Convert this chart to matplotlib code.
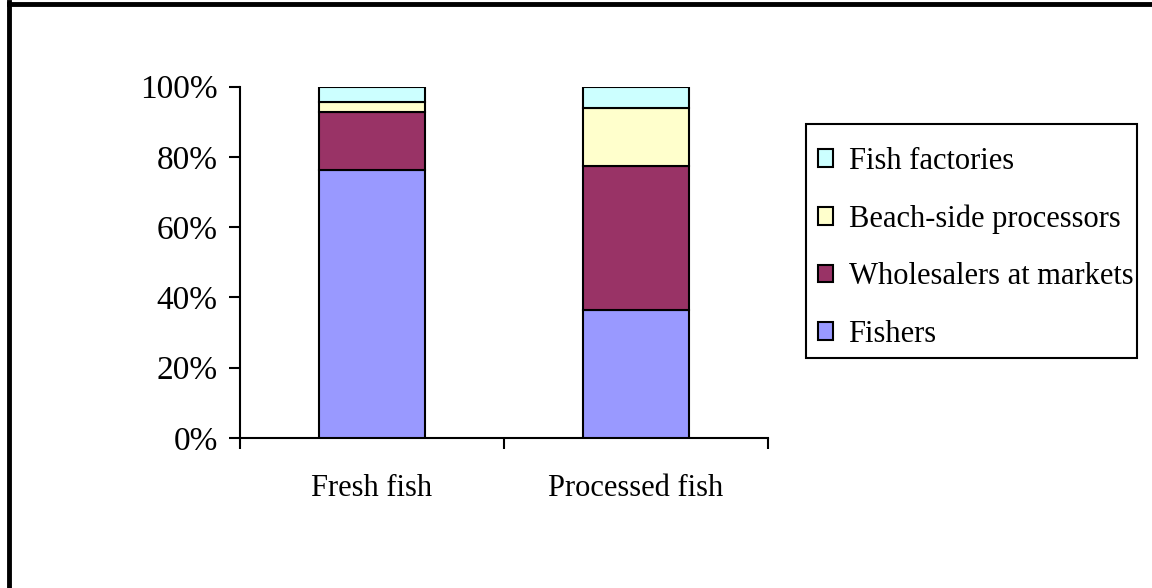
import matplotlib
matplotlib.use("Agg")
import matplotlib.pyplot as plt
from matplotlib.lines import Line2D
from matplotlib.patches import Rectangle
from matplotlib.ticker import PercentFormatter, FixedLocator

# Share of each buyer group, per product (percent of total)
CATEGORIES = ['Fresh fish', 'Processed fish']
SERIES = ['Fishers', 'Wholesalers at markets', 'Beach-side processors', 'Fish factories']
FISHERS = [76.3, 36.3]
WHOLESALERS = [16.5, 41.0]
BEACH_SIDE = [2.8, 16.6]
FACTORIES = [4.4, 6.1]
COLORS = ['#9999FF', '#993366', '#FFFFCC', '#CCFFFF']

plt.rcParams['font.family'] = ['Liberation Serif', 'DejaVu Serif']

W, H = 1152, 588
fig = plt.figure(figsize=(W / 100, H / 100), dpi=100)
ax = fig.add_axes([240 / W, 150 / H, 528 / W, 351.5 / H])

x = list(range(len(CATEGORIES)))
bottom = [0.0] * len(CATEGORIES)
for name, values, color in zip(SERIES, [FISHERS, WHOLESALERS, BEACH_SIDE, FACTORIES], COLORS):
    ax.bar(x, values, width=0.4, bottom=bottom, color=color, edgecolor='black',
           linewidth=1.5, label=name, zorder=3)
    bottom = [b0 + v for b0, v in zip(bottom, values)]

ax.set_xlim(-0.5, len(CATEGORIES) - 0.5)
ax.set_ylim(0, 100)
ax.yaxis.set_major_locator(FixedLocator([0, 20, 40, 60, 80, 100]))
ax.yaxis.set_major_formatter(PercentFormatter(decimals=0))

ax.set_xticks(x)
ax.set_xticklabels(CATEGORIES)
ax.set_xticks([i - 0.5 for i in range(len(CATEGORIES) + 1)], minor=True)
ax.tick_params(axis='x', which='major', length=0, pad=26, labelsize=22)
ax.tick_params(axis='x', which='minor', length=8, width=1.5, direction='out')
ax.tick_params(axis='y', length=8, width=1.5, direction='out', pad=8, labelsize=24)

for side in ['top', 'right']:
    ax.spines[side].set_visible(False)
for side in ['left', 'bottom']:
    ax.spines[side].set_linewidth(1.5)

# legend lists the stack from top to bottom; its box is drawn separately
handles, labels = ax.get_legend_handles_labels()
leg = ax.legend(handles[::-1], labels[::-1], loc='upper left',
                bbox_to_anchor=(818 / W, 1 - 147 / H), bbox_transform=fig.transFigure,
                fontsize=22, frameon=False,
                handlelength=0.5, handleheight=0.5, handletextpad=0.5,
                labelspacing=0.93, borderpad=0, borderaxespad=0)
for h in leg.legend_handles:
    h.set_linewidth(1.5)
fig.add_artist(Rectangle((806 / W, 1 - 358 / H), 331 / W, 234 / H, transform=fig.transFigure,
                         facecolor='none', edgecolor='black', linewidth=1.5))

# outer frame around the chart area
fig.add_artist(Line2D([9 / W, 9 / W], [0, 1 - 2 / H], transform=fig.transFigure,
                      color='black', linewidth=3.5))
fig.add_artist(Line2D([9 / W, 1], [1 - 4 / H, 1 - 4 / H], transform=fig.transFigure,
                      color='black', linewidth=3.5))

fig.savefig('out.png', dpi=100)
